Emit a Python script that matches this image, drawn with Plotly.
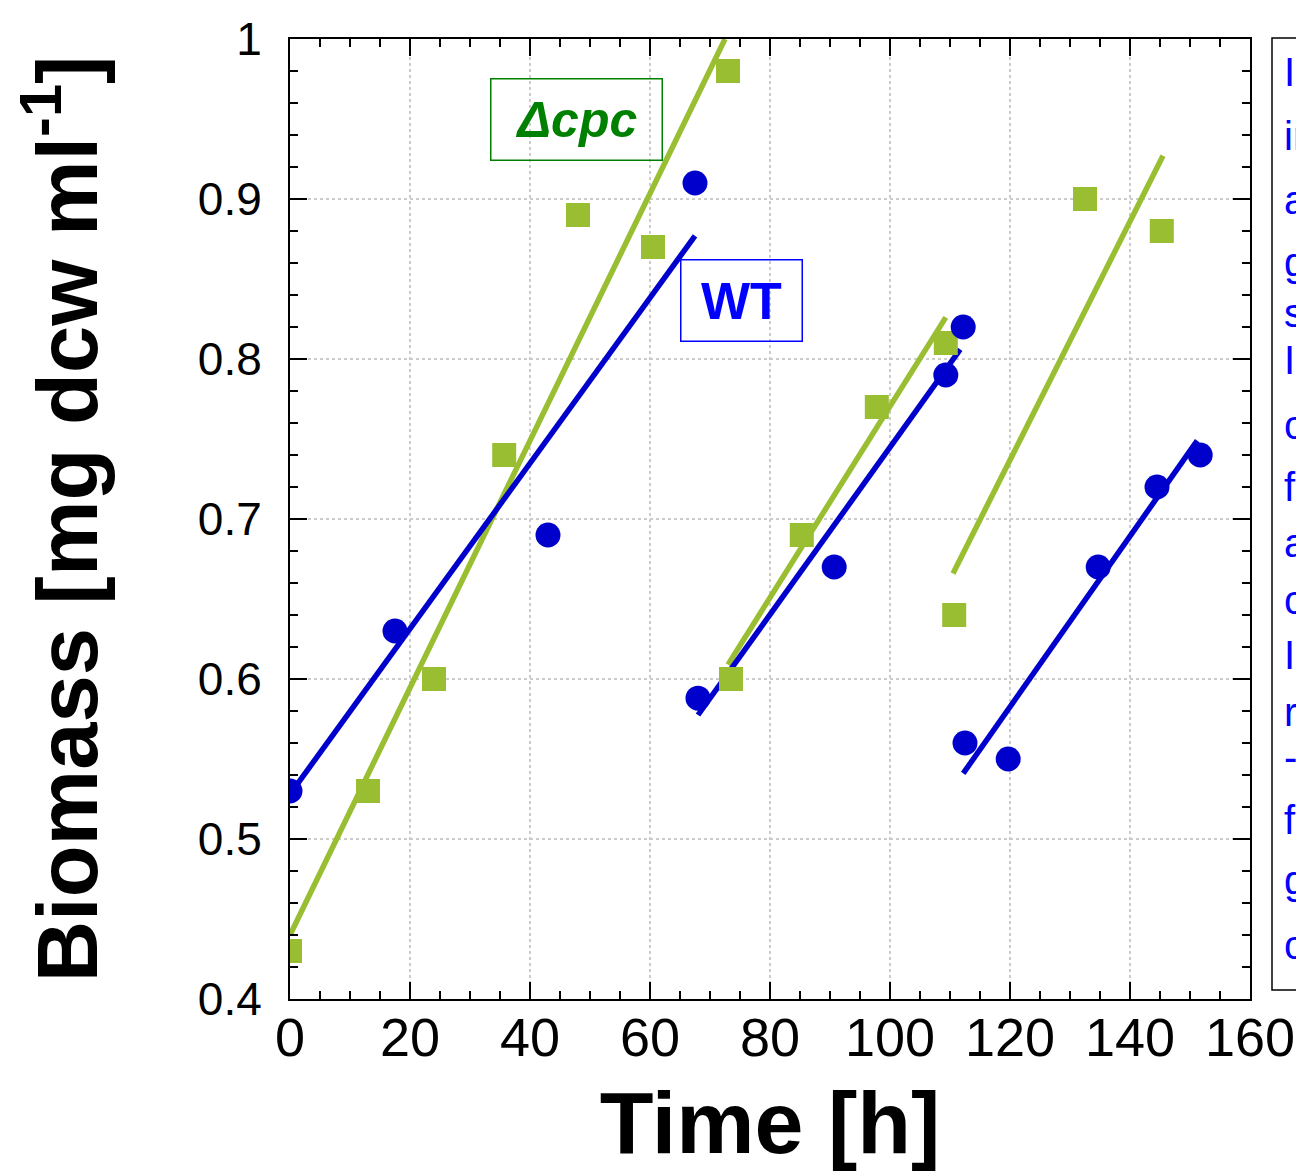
import plotly.graph_objects as go

# ---- data ----
wt_time = [0, 17.5, 43, 67.5, 68, 90.7, 109.3, 112.2, 112.5, 119.7, 134.7, 144.5, 151.7]
wt_biomass = [0.53, 0.63, 0.69, 0.91, 0.588, 0.67, 0.79, 0.82, 0.56, 0.55, 0.67, 0.72, 0.74]

cpc_time = [0, 13, 24, 35.7, 48, 60.5, 73, 73.5, 85.3, 97.8, 109.3, 110.7, 132.5, 145.3]
cpc_biomass = [0.43, 0.53, 0.60, 0.74, 0.89, 0.87, 0.98, 0.60, 0.69, 0.77, 0.81, 0.64, 0.90, 0.88]

# linear fit segments (start/end of each fitted line)
wt_fit_x = [0, 67.5, None, 68, 111.7, None, 112.2, 151.2]
wt_fit_y = [0.528, 0.877, None, 0.5775, 0.806, None, 0.541, 0.749]
cpc_fit_x = [0, 72.5, None, 73, 109.3, None, 110.5, 145.5]
cpc_fit_y = [0.44, 1.0, None, 0.609, 0.826, None, 0.666, 0.927]

x_ticks = [0, 20, 40, 60, 80, 100, 120, 140, 160]
y_ticks = [0.4, 0.5, 0.6, 0.7, 0.8, 0.9, 1.0]
y_ticktext = ["0.4", "0.5", "0.6", "0.7", "0.8", "0.9", "1"]

side_text = ["In", "in", "an", "gr", "sh", "In", "cu", "fo", "at", "ce", "In", "re", "-T", "fo", "gr", "cu"]
side_text_y = [72, 136, 200, 262, 313, 360, 425, 487, 543, 600, 655, 712, 757, 820, 880, 945]

BLUE = "#0000CC"
GREEN = "#99BE32"

fig = go.Figure()
fig.add_trace(go.Scatter(x=cpc_fit_x, y=cpc_fit_y, mode="lines",
                         line=dict(color=GREEN, width=5.5), showlegend=False))
fig.add_trace(go.Scatter(x=wt_fit_x, y=wt_fit_y, mode="lines",
                         line=dict(color=BLUE, width=5.5), showlegend=False))
fig.add_trace(go.Scatter(x=cpc_time, y=cpc_biomass, mode="markers", name="Δcpc",
                         marker=dict(symbol="square", size=24, color=GREEN), showlegend=False))
fig.add_trace(go.Scatter(x=wt_time, y=wt_biomass, mode="markers", name="WT",
                         marker=dict(symbol="circle", size=25, color=BLUE), showlegend=False))

W, H = 1296, 1172
L, R, T, B = 290, 46, 39, 173
PW, PH = W - L - R, H - T - B

def px_x(p):
    return (p - L) / PW

def px_y(p):
    return (H - B - p) / PH

axis_common = dict(
    showline=True, linecolor="black", linewidth=2, mirror="allticks",
    ticks="inside", ticklen=17, tickwidth=2, tickcolor="black",
    showgrid=True, gridcolor="#cccccc", griddash="dot", gridwidth=1.5,
    zeroline=False, automargin=False,
)

fig.update_layout(
    width=W, height=H, autosize=False,
    margin=dict(l=L, r=R, t=T, b=B, autoexpand=False),
    plot_bgcolor="white", paper_bgcolor="white",
    xaxis=dict(
        range=[0, 160], tickvals=x_ticks,
        tickfont=dict(family="Liberation Sans Narrow, Arial Narrow, Arial", size=54, color="black"),
        ticklabelstandoff=-10,
        minor=dict(dtick=5, ticks="inside", ticklen=8, tickwidth=2, tickcolor="black", showgrid=False),
        title=dict(text="<b>Time [h]</b>", font=dict(family="Liberation Sans, Arial", size=88, color="black"),
                   standoff=30),
        **axis_common,
    ),
    yaxis=dict(
        range=[0.4, 1.0], tickvals=y_ticks, ticktext=y_ticktext,
        tickfont=dict(family="Liberation Sans, Arial", size=46, color="black"),
        ticklabelstandoff=17,
        minor=dict(dtick=0.02, ticks="inside", ticklen=8, tickwidth=2, tickcolor="black", showgrid=False),
        title=dict(text="<b>Biomass [mg dcw ml<sup>-1</sup>]</b>",
                   font=dict(family="Liberation Sans, Arial", size=85, color="black"),
                   standoff=72),
        **axis_common,
    ),
)

annotations = [
    dict(text="<b><i>Δcpc</i></b>", xref="paper", yref="paper",
         x=px_x(576), y=px_y(119.5), xanchor="center", yanchor="middle",
         showarrow=False, font=dict(family="Liberation Sans, Arial", size=50, color="#008000"),
         bordercolor="#008000", borderwidth=1.5, borderpad=0, width=170, height=80,
         bgcolor="rgba(255,255,255,0)"),
    dict(text="<b>WT</b>", xref="paper", yref="paper",
         x=px_x(741), y=px_y(300.5), xanchor="center", yanchor="middle",
         showarrow=False, font=dict(family="Liberation Sans, Arial", size=52, color="#0000FF"),
         bordercolor="#0000FF", borderwidth=1.5, borderpad=0, width=120, height=80,
         bgcolor="rgba(255,255,255,0)"),
]
for txt, yy in zip(side_text, side_text_y):
    annotations.append(dict(text=txt, xref="paper", yref="paper",
                            x=px_x(1282), y=px_y(yy), xanchor="left", yanchor="middle",
                            showarrow=False,
                            font=dict(family="Liberation Sans, Arial", size=40, color="#0000FF")))
fig.update_layout(annotations=annotations)

fig.add_shape(type="rect", xref="paper", yref="paper",
              x0=px_x(1272), x1=px_x(1300), y0=px_y(990), y1=px_y(38),
              line=dict(color="black", width=1.5), fillcolor="rgba(0,0,0,0)", layer="above")

post = (
    "document.documentElement.style.overflow='hidden';"
    "document.body.style.margin='0';document.body.style.overflow='hidden';"
    "document.querySelectorAll('.plotly-graph-div').forEach(function(d){"
    "d.style.overflow='hidden';d.style.width='1296px';d.style.height='1172px';"
    "if(d.parentElement){d.parentElement.style.overflow='hidden';}});"
)
fig.write_html("out.html", config={"displayModeBar": False, "responsive": False},
               post_script=post)
